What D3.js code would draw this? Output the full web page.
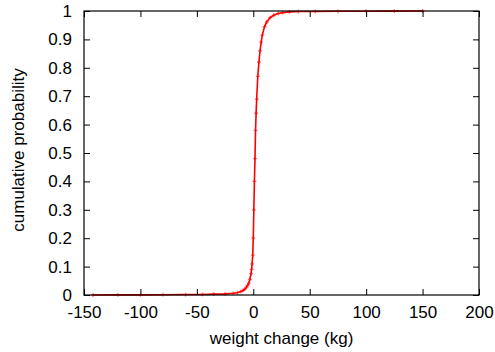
<!DOCTYPE html>
<html>
<head>
<meta charset="utf-8">
<script src="https://cdn.jsdelivr.net/npm/d3@7"></script>
<style>
  html, body { margin: 0; padding: 0; background: #fff; }
  svg { display: block; }
  text { font-family: "Liberation Sans", Arial, Helvetica, sans-serif; fill: #000; }
</style>
</head>
<body>
<svg id="chart" width="495" height="352"></svg>
<script>
const weightChange = [-142,-120,-100,-80,-60,-45,-35,-25,-18,-14,-11,-9,-7.5,-6,-5,-4,-3,-2,-1.5,-1,-0.5,0,0.5,1,1.5,2,2.5,3,4,5,6,7,8,10,12,15,18,22,26,32,40,55,75,100,125,150];
const cumProb      = [0,0.0003,0.0006,0.001,0.0015,0.002,0.003,0.004,0.006,0.008,0.012,0.016,0.021,0.028,0.034,0.042,0.055,0.075,0.09,0.11,0.14,0.2,0.3,0.4,0.48,0.58,0.64,0.69,0.77,0.82,0.86,0.89,0.915,0.945,0.962,0.977,0.985,0.991,0.994,0.997,0.998,0.9985,0.999,0.9993,0.9996,1];
const xTicks = [-150,-100,-50,0,50,100,150,200];
const yTicks = [0,0.1,0.2,0.3,0.4,0.5,0.6,0.7,0.8,0.9,1];
const xTitle = "weight change (kg)";
const yTitle = "cumulative probability";

const margin = {left: 84, top: 11, right: 16, bottom: 57};
const W = 495, H = 352;
const iw = W - margin.left - margin.right;
const ih = H - margin.top - margin.bottom;

const svg = d3.select("#chart");
const g = svg.append("g").attr("transform", `translate(${margin.left},${margin.top})`);

const x = d3.scaleLinear().domain([-150, 200]).range([0, iw]);
const y = d3.scaleLinear().domain([0, 1]).range([ih, 0]);

const data = weightChange.map((v, i) => ({x: v, p: cumProb[i]}));

// Curve
g.append("path")
  .datum(data)
  .attr("fill", "none")
  .attr("stroke", "#ff0000")
  .attr("stroke-width", 1.6)
  .attr("d", d3.line().x(d => x(d.x)).y(d => y(d.p)));

// Point markers (+)
const sym = d3.symbol().type(d3.symbolCross).size(8);
g.selectAll(".pt").data(data).join("path")
  .attr("class", "pt")
  .attr("transform", d => `translate(${x(d.x)},${y(d.p)})`)
  .attr("d", sym)
  .attr("fill", "#ff0000")
  .attr("fill-opacity", 0.6);

// Axes (gnuplot style: ticks inward, mirrored)
const tickLen = 6;
const fs = "17px";
const fmtX = d => String(d);              // plain hyphen minus like gnuplot
const fmtY = d => (d === 0 || d === 1) ? String(d) : d.toFixed(1);

const xb = g.append("g").attr("transform", `translate(0,${ih})`)
  .call(d3.axisBottom(x).tickValues(xTicks).tickSize(-tickLen).tickPadding(11).tickFormat(fmtX));
const xt = g.append("g")
  .call(d3.axisTop(x).tickValues(xTicks).tickSize(-tickLen).tickFormat(""));
const yl = g.append("g")
  .call(d3.axisLeft(y).tickValues(yTicks).tickSize(-tickLen).tickPadding(12).tickFormat(fmtY));
const yr = g.append("g").attr("transform", `translate(${iw},0)`)
  .call(d3.axisRight(y).tickValues(yTicks).tickSize(-tickLen).tickFormat(""));

[xb, xt, yl, yr].forEach(a => {
  a.select(".domain").remove();
  a.selectAll("line").attr("stroke", "#000").attr("stroke-width", 1);
  a.selectAll("text").style("font-size", fs).attr("fill", "#000")
    .style("font-family", '"Liberation Sans", Arial, sans-serif');
});

// Frame
g.append("rect").attr("x", 0).attr("y", 0).attr("width", iw).attr("height", ih)
  .attr("fill", "none").attr("stroke", "#000").attr("stroke-width", 1.2);

// Titles
svg.append("text")
  .attr("x", margin.left + iw / 2).attr("y", 344)
  .attr("text-anchor", "middle").style("font-size", fs).text(xTitle);
svg.append("text")
  .attr("transform", `translate(24,150) rotate(-90)`)
  .attr("text-anchor", "middle").style("font-size", fs).text(yTitle);
</script>
</body>
</html>
